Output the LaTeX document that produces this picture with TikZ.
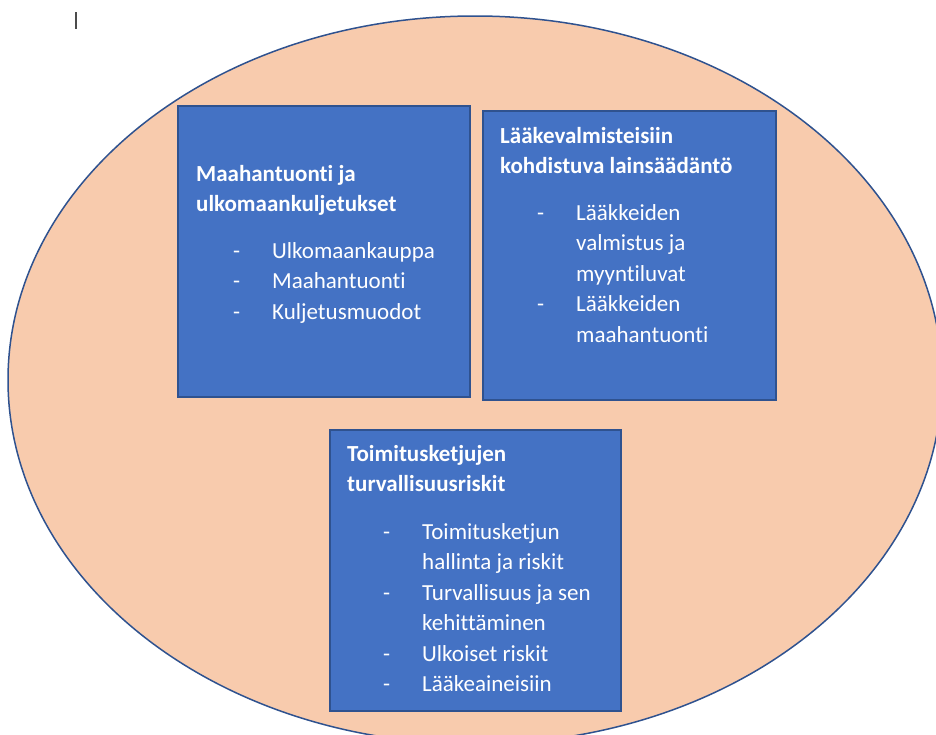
\documentclass[tikz,border=0pt]{standalone}
\usepackage{fontspec}
\setmainfont{Carlito}[Ligatures={NoCommon}]
\usepackage{tikz}
\usetikzlibrary{calc}

\definecolor{peach}{HTML}{F8CBAD}
\definecolor{boxblue}{HTML}{4472C4}
\definecolor{edgeblue}{HTML}{2F528F}

\newcommand{\itemlist}[1]{\begin{tabular}[t]{@{}p{39pt}@{}l@{}}#1\end{tabular}}
\newcommand{\headlines}[1]{\begin{tabular}[t]{@{}l@{}}#1\end{tabular}}

\begin{document}
\begin{tikzpicture}[x=1pt,y=-1pt]
        \tikzset{topic/.style={fill=boxblue,draw=edgeblue,line width=2pt},
                 heading/.style={anchor=base west,inner sep=0pt,text=white,font=\fontsize{23}{30}\selectfont\bfseries},
                 items/.style={anchor=base west,inner sep=0pt,text=white,font=\fontsize{23}{30.5}\selectfont}}
        
        \coordinate (page_nw) at (0,0);
        \coordinate (page_se) at (936,734);
        \coordinate (oval_centre) at (475,380);
        \coordinate (cursor_top) at (76,12);
        \coordinate (cursor_bottom) at (76,29);
        \coordinate (import_nw) at (178,106);
        \coordinate (import_se) at (470,397);
        \coordinate (law_nw) at (483,111);
        \coordinate (law_se) at (776,400);
        \coordinate (risk_nw) at (330,430);
        \coordinate (risk_se) at (621,711);
        
        \useasboundingbox (page_nw) rectangle (page_se);
        \clip (page_nw) rectangle (page_se);
        \fill [white] (page_nw) rectangle (page_se);
        
        \draw [line width=1.5pt,black!70] (cursor_top) -- (cursor_bottom);
        \filldraw [fill=peach,draw=edgeblue,line width=1.5pt] (oval_centre) ellipse [x radius=467pt,y radius=364pt];
        
        \filldraw [topic] (import_nw) rectangle (import_se);
        \filldraw [topic] (law_nw) rectangle (law_se);
        \filldraw [topic] (risk_nw) rectangle (risk_se);
        
        %Maahantuonti
        \node[heading] (import_title) at ($(import_nw)+(18,75)$) {\headlines{Maahantuonti ja\\ulkomaankuljetukset}};
        \node[items] (import_list) at ($(import_nw)+(55,152)$) {\itemlist{-&Ulkomaankauppa\\-&Maahantuonti\\-&Kuljetusmuodot}};
        
        %Lainsaadanto
        \node[heading] (law_title) at ($(law_nw)+(17,32)$) {\headlines{Lääkevalmisteisiin\\kohdistuva lainsäädäntö}};
        \node[items] (law_list) at ($(law_nw)+(54,109)$) {\itemlist{-&Lääkkeiden\\&valmistus ja\\&myyntiluvat\\-&Lääkkeiden\\&maahantuonti}};
        
        %Riskit
        \node[heading] (risk_title) at ($(risk_nw)+(17,31)$) {\headlines{Toimitusketjujen\\turvallisuusriskit}};
        \node[items] (risk_list) at ($(risk_nw)+(53,109)$) {\itemlist{-&Toimitusketjun\\&hallinta ja riskit\\-&Turvallisuus ja sen\\&kehittäminen\\-&Ulkoiset riskit\\-&Lääkeaineisiin}};
\end{tikzpicture}
\end{document}
